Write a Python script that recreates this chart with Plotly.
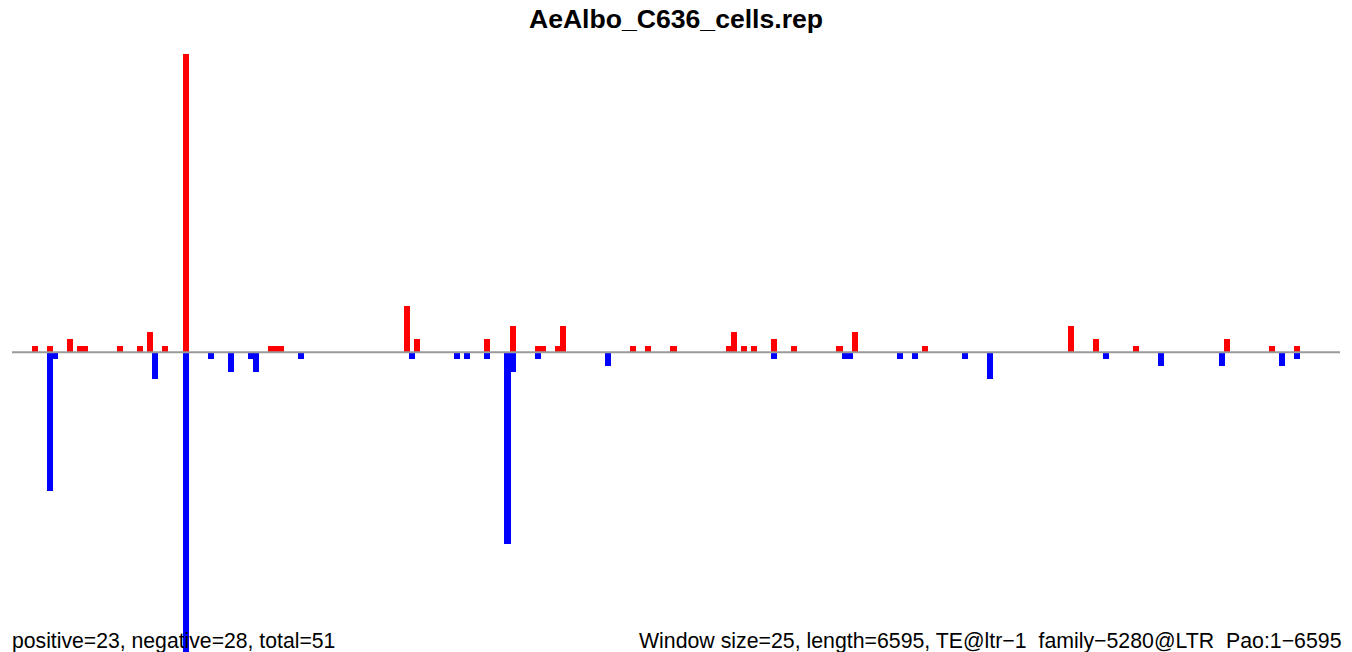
import plotly.graph_objects as go

# Window indices (window size 25 over length 6595) and read counts
pos_windows = [5, 8, 12, 14, 15, 22, 26, 28, 31, 35, 52, 53, 54, 79, 81, 95, 100,
               105, 106, 109, 110, 124, 127, 132, 143, 144, 146, 148, 152, 156,
               165, 168, 182, 211, 216, 224, 242, 251, 256]
pos_values = [1, 1, 2, 1, 1, 1, 1, 3, 1, 45, 1, 1, 1, 7, 2, 2, 4,
              1, 1, 1, 4, 1, 1, 1, 1, 3, 1, 1, 2, 1,
              1, 3, 1, 4, 2, 1, 2, 1, 1]

neg_windows = [8, 9, 29, 35, 40, 44, 48, 49, 58, 80, 89, 91, 95, 99, 100, 105,
               119, 152, 166, 167, 177, 180, 190, 195, 218, 229, 241, 253, 256]
neg_values = [-21, -1, -4, -46, -1, -3, -1, -3, -1, -1, -1, -1, -1, -29, -3, -1,
              -2, -1, -1, -1, -1, -1, -1, -4, -1, -2, -2, -2, -1]

n_windows = 264
title_text = "AeAlbo_C636_cells.rep"
left_note = "positive=23, negative=28, total=51"
right_note = ("Window size=25, length=6595, TE@ltr\u22121 \u00a0family\u22125280@LTR"
              " \u00a0Pao:1\u22126595")

fig = go.Figure()
fig.add_trace(go.Bar(x=pos_windows, y=pos_values, width=1.2,
                     marker=dict(color="#FF0000", line=dict(width=0)), showlegend=False))
fig.add_trace(go.Bar(x=neg_windows, y=neg_values, width=1.2,
                     marker=dict(color="#0000FF", line=dict(width=0)), showlegend=False))

fig.add_shape(type="line", xref="x", yref="y", x0=0.5, x1=n_windows + 0.5, y0=0, y1=0,
              line=dict(color="#9a9a9a", width=2), layer="above")

W, H = 1352, 652
ml, mr = 12, 12
mt, mb = 40, 0
plot_h = H - mt - mb
plot_w = W - ml - mr

def paper_y(px):
    return (H - mb - px) / plot_h

def paper_x(px):
    return (px - ml) / plot_w

fig.update_layout(
    width=W, height=H,
    margin=dict(l=ml, r=mr, t=mt, b=mb, pad=0),
    barmode="overlay", bargap=0,
    plot_bgcolor="white", paper_bgcolor="white",
    xaxis=dict(range=[0.5, n_windows + 0.5], visible=False, fixedrange=True),
    yaxis=dict(range=[-45.27, 47.17], visible=False, fixedrange=True),
    title=dict(text="<b>" + title_text + "</b>", x=0.5, xanchor="center",
               y=1 - 19 / H, yanchor="middle",
               font=dict(family="Liberation Sans, Arial, sans-serif", size=26.6, color="black")),
    font=dict(family="Liberation Sans, Arial, sans-serif"),
    annotations=[
        dict(text=left_note, xref="paper", yref="paper", x=paper_x(10), y=paper_y(641),
             xanchor="left", yanchor="middle", showarrow=False,
             font=dict(size=21.2, color="black")),
        dict(text=right_note, xref="paper", yref="paper", x=paper_x(1343), y=paper_y(641),
             xanchor="right", yanchor="middle", showarrow=False,
             font=dict(size=21.3, color="black")),
    ],
)

fig.write_html("out.html", config={"displayModeBar": False},
               post_script="document.body.style.margin='0';document.body.style.overflow='hidden';")
